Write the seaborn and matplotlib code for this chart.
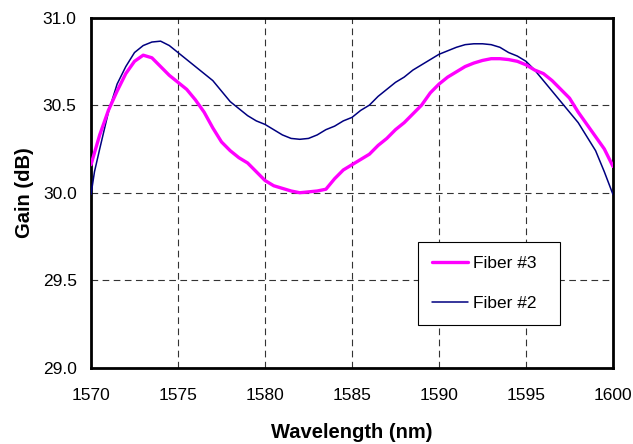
import matplotlib
matplotlib.use("Agg")
import matplotlib.pyplot as plt
import seaborn as sns
import pandas as pd
import numpy as np

wl3 = [1570.0, 1570.5, 1571.0, 1571.5, 1572.0, 1572.5, 1573.0, 1573.5, 1574.0, 1574.5,
       1575.0, 1575.5, 1576.0, 1576.5, 1577.0, 1577.5, 1578.0, 1578.5, 1579.0, 1579.5,
       1580.0, 1580.5, 1581.0, 1581.5, 1582.0, 1582.5, 1583.0, 1583.5, 1584.0, 1584.5,
       1585.0, 1585.5, 1586.0, 1586.5, 1587.0, 1587.5, 1588.0, 1588.5, 1589.0, 1589.5,
       1590.0, 1590.5, 1591.0, 1591.5, 1592.0, 1592.5, 1593.0, 1593.5, 1594.0, 1594.5,
       1595.0, 1595.5, 1596.0, 1596.5, 1597.0, 1597.5, 1598.0, 1598.5, 1599.0, 1599.5, 1600.0]
gain3 = [30.16, 30.33, 30.47, 30.58, 30.68, 30.75, 30.785, 30.77, 30.72, 30.67,
         30.63, 30.59, 30.53, 30.46, 30.37, 30.29, 30.24, 30.20, 30.17, 30.12,
         30.07, 30.04, 30.025, 30.01, 30.00, 30.005, 30.01, 30.02, 30.08, 30.13,
         30.16, 30.19, 30.22, 30.27, 30.31, 30.36, 30.40, 30.45, 30.50, 30.57,
         30.62, 30.66, 30.69, 30.72, 30.74, 30.755, 30.765, 30.765, 30.76, 30.75,
         30.73, 30.70, 30.68, 30.64, 30.59, 30.54, 30.46, 30.39, 30.32, 30.25, 30.15]

wl2 = [1570.0, 1570.2, 1570.5, 1571.0, 1571.5, 1572.0, 1572.5, 1573.0, 1573.5, 1574.0, 1574.5,
       1575.0, 1575.5, 1576.0, 1576.5, 1577.0, 1577.5, 1578.0, 1578.5, 1579.0, 1579.5,
       1580.0, 1580.5, 1581.0, 1581.5, 1582.0, 1582.5, 1583.0, 1583.5, 1584.0, 1584.5,
       1585.0, 1585.5, 1586.0, 1586.5, 1587.0, 1587.5, 1588.0, 1588.5, 1589.0, 1589.5,
       1590.0, 1590.5, 1591.0, 1591.5, 1592.0, 1592.5, 1593.0, 1593.5, 1594.0, 1594.5,
       1595.0, 1595.5, 1596.0, 1596.5, 1597.0, 1597.5, 1598.0, 1598.5, 1599.0, 1599.5, 1600.0]
gain2 = [29.99, 30.12, 30.25, 30.46, 30.62, 30.72, 30.80, 30.84, 30.86, 30.865, 30.84,
         30.80, 30.76, 30.72, 30.68, 30.64, 30.58, 30.52, 30.48, 30.44, 30.41,
         30.39, 30.36, 30.33, 30.31, 30.305, 30.31, 30.33, 30.36, 30.38, 30.41,
         30.43, 30.47, 30.50, 30.55, 30.59, 30.63, 30.66, 30.70, 30.73, 30.76,
         30.79, 30.81, 30.83, 30.845, 30.85, 30.85, 30.845, 30.83, 30.80, 30.78,
         30.75, 30.70, 30.64, 30.58, 30.52, 30.46, 30.40, 30.32, 30.24, 30.12, 29.99]

x_ticks = [1570, 1575, 1580, 1585, 1590, 1595, 1600]
y_ticks = [29.0, 29.5, 30.0, 30.5, 31.0]

sns.set_style("white")
plt.rcParams['font.family'] = ['Liberation Sans', 'DejaVu Sans']
plt.rcParams['text.color'] = 'black'
plt.rcParams['axes.labelcolor'] = 'black'

df3 = pd.DataFrame({"Wavelength": wl3, "Gain": gain3})
df2 = pd.DataFrame({"Wavelength": wl2, "Gain": gain2})

fig = plt.figure(figsize=(6.33, 4.44), dpi=100)
ax = fig.add_axes([91/633, 1-368/444, 522/633, 350.5/444])

sns.lineplot(data=df2, x="Wavelength", y="Gain", ax=ax, color="#000080",
             linewidth=1.1, label="Fiber #2", zorder=3)
sns.lineplot(data=df3, x="Wavelength", y="Gain", ax=ax, color="#FF00FF",
             linewidth=2.4, label="Fiber #3", zorder=4)

ax.set_xlim(1570, 1600)
ax.set_ylim(29.0, 31.0)
ax.set_xticks(x_ticks)
ax.set_yticks(y_ticks)
ax.set_xticklabels([str(t) for t in x_ticks])
ax.set_yticklabels([f"{t:.1f}" for t in y_ticks])
ax.grid(True, color="#333333", linestyle=(0, (6, 4)), linewidth=0.8)
ax.tick_params(axis="x", direction="out", length=3.6, width=0.8,
               labelsize=12.5, colors="black", pad=11)
ax.tick_params(axis="y", direction="out", length=4.3, width=0.8,
               labelsize=12.5, colors="black", pad=6)
for s in ax.spines.values():
    s.set_visible(True)
    s.set_color("black")
    s.set_linewidth(2.0)

ax.set_xlabel("Wavelength (nm)", fontsize=14.5, fontweight="bold", labelpad=14,
              color="black")
ax.set_ylabel("Gain (dB)", fontsize=14.5, fontweight="bold", labelpad=6,
              color="black")

handles, labels = ax.get_legend_handles_labels()
order = [labels.index("Fiber #3"), labels.index("Fiber #2")]
leg = ax.legend([handles[i] for i in order], [labels[i] for i in order],
                loc="upper left", bbox_to_anchor=(0.626, 0.126, 0.272, 0.234),
                mode="expand", borderaxespad=0, fancybox=False, framealpha=1,
                edgecolor="black", fontsize=12.5, handlelength=2.1,
                handletextpad=0.3, labelspacing=1.45, borderpad=0.8)
leg.get_frame().set_linewidth(0.8)

fig.savefig("out.png", dpi=100)
